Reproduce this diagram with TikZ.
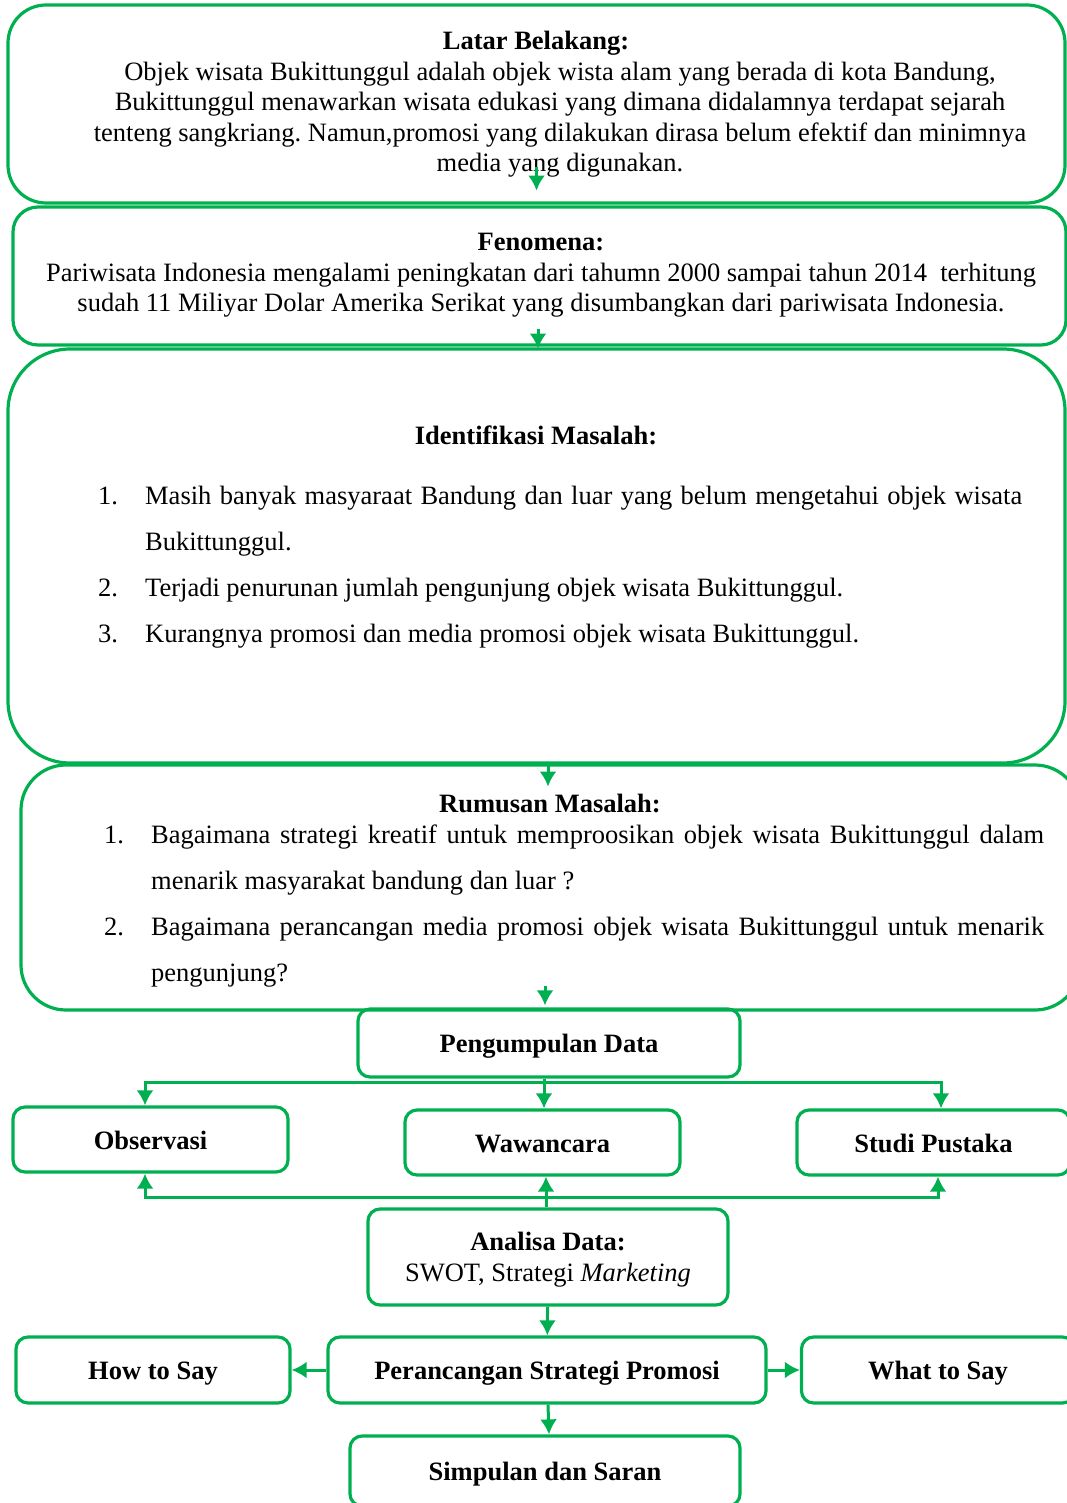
\documentclass[tikz,border=0pt]{standalone}
\usepackage{fontspec}
\setmainfont{Liberation Serif}
\usetikzlibrary{arrows.meta,positioning}
\definecolor{hijau}{HTML}{00B050}
\frenchspacing

\begin{document}
\begin{tikzpicture}[
  x=1pt, y=-1pt,
  font=\fontsize{26.5}{30.5}\selectfont,
  kotak/.style={draw=hijau, line width=3.2pt, inner sep=0pt},
  kecil/.style={kotak, rounded corners=12pt, minimum height=66pt, text height=19pt, text depth=0pt, font=\fontsize{26.5}{30.5}\selectfont\bfseries},
  judul/.style={font=\fontsize{26.5}{30.5}\selectfont\bfseries, inner sep=0pt},
  isi/.style={inner sep=0pt, align=center},
  daftar/.style={inner sep=0pt, align=justify, font=\fontsize{26.5}{46}\selectfont},
  arr/.style={-{Latex[length=15pt,width=17pt]}, draw=hijau, line width=3pt},
]
\useasboundingbox (0,0) rectangle (1067,1503);
\clip (0,0) rectangle (1067,1503);

% kotak besar
\node[kotak, rounded corners=38pt, minimum width=1057pt, minimum height=198pt] (latar) at (536.5,104) {};
\node[kotak, rounded corners=25pt, minimum width=1053pt, minimum height=138pt] (feno) at (539.5,276) {};
\node[kotak, rounded corners=62pt, minimum width=1057pt, minimum height=414pt] (ident) at (536.5,556) {};
\node[kotak, rounded corners=45pt, minimum width=1059pt, minimum height=245pt] (rumusan) at (550.5,887.5) {};

% teks kotak besar
\node[judul, anchor=base] (latarjudul) at (536,50) {Latar Belakang:};
\node[isi, anchor=base] (latarisi) at (560,172) {Objek wisata Bukittunggul adalah objek wista alam yang berada di kota Bandung,\\
  Bukittunggul menawarkan wisata edukasi yang dimana didalamnya terdapat sejarah\\
  tenteng sangkriang. Namun,promosi yang dilakukan dirasa belum efektif dan minimnya\\
  media yang digunakan.};
\node[isi, anchor=base] (fenoisi) at (541,312) {\textbf{Fenomena:}\\
  Pariwisata Indonesia mengalami peningkatan dari tahumn 2000 sampai tahun 2014\ \ terhitung\\
  sudah 11 Miliyar Dolar Amerika Serikat yang disumbangkan dari pariwisata Indonesia.};
\node[judul, anchor=base] (identjudul) at (536,444) {Identifikasi Masalah:};
\node[daftar, text width=924pt, anchor=base west] (identisi) at (98,504) {%
  \hangindent=47pt\hangafter=1\makebox[47pt][l]{1.}Masih banyak masyaraat Bandung dan luar yang belum mengetahui objek wisata\linebreak Bukittunggul.\par
  \makebox[47pt][l]{2.}Terjadi penurunan jumlah pengunjung objek wisata Bukittunggul.\par
  \makebox[47pt][l]{3.}Kurangnya promosi dan media promosi objek wisata Bukittunggul.\par};
\node[judul, anchor=base] (rumusanjudul) at (550,812) {Rumusan Masalah:};
\node[daftar, text width=940pt, anchor=base west] (rumusanisi) at (104,843) {%
  \hangindent=47pt\hangafter=1\makebox[47pt][l]{1.}Bagaimana strategi kreatif untuk memproosikan objek wisata Bukittunggul dalam\linebreak menarik masyarakat bandung dan luar ?\par
  \hangindent=47pt\hangafter=1\makebox[47pt][l]{2.}Bagaimana perancangan media promosi objek wisata Bukittunggul untuk menarik\linebreak pengunjung?\par};

% kotak kecil
\node[kecil, minimum width=382pt, minimum height=68pt] (kumpul) at (549,1043) {Pengumpulan Data};
\node[kecil, minimum width=275pt, minimum height=65pt] (obs) at (150.5,1139.5) {Observasi};
\node[kecil, minimum width=275pt, minimum height=65pt] (wawan) at (542.5,1142.5) {Wawancara};
\node[kecil, minimum width=273pt, minimum height=65pt] (studi) at (933.5,1142.5) {Studi Pustaka};
\node[kotak, rounded corners=12pt, minimum width=360pt, minimum height=96pt, align=center, text depth=0pt] (analisa) at (548,1257) {\textbf{Analisa Data:}\\SWOT, Strategi \textit{Marketing}};
\node[kecil, minimum width=438pt] (rancang) at (547,1370) {Perancangan Strategi Promosi};
\node[kecil, minimum width=274pt] (how) at (153,1370) {How to Say};
\node[kecil, minimum width=273pt] (what) at (938,1370) {What to Say};
\node[kecil, minimum width=390pt, minimum height=70pt] (simpul) at (545,1471) {Simpulan dan Saran};

% panah antar kotak besar
\draw[arr] ([yshift=38pt]latar.south) -- ([yshift=14pt]latar.south);
\draw[arr] ([xshift=-1.5pt,yshift=18pt]feno.south) -- ([xshift=-1.5pt,yshift=-2pt]feno.south);
\draw[arr] ([xshift=11.5pt]ident.south) -- ([xshift=11.5pt,yshift=-22pt]ident.south);
\draw[arr] ([xshift=-4pt,yshift=21pt]kumpul.north) -- ([xshift=-4pt,yshift=2pt]kumpul.north);

% cabang pengumpulan data
\coordinate (atas) at (544,1082);
\draw[arr] ([xshift=-5pt]kumpul.south) -- ([xshift=1.5pt]wawan.north);
\draw[arr] (atas) -| ([xshift=-5.5pt]obs.north);
\draw[arr] (atas) -| ([xshift=7.5pt]studi.north);

% cabang analisa data
\coordinate (bawah) at (546,1197);
\draw[arr] ([xshift=-2pt]analisa.north) -- ([xshift=3.5pt]wawan.south);
\draw[arr] (bawah) -| ([xshift=-5.5pt]obs.south);
\draw[arr] (bawah) -| ([xshift=4.5pt]studi.south);

% perancangan
\draw[arr] (analisa) -- (rancang);
\draw[arr] (rancang) -- (how);
\draw[arr] (rancang) -- (what);
\draw[arr] ([xshift=1pt]rancang.south) -- ([xshift=4pt]simpul.north);
\end{tikzpicture}
\end{document}
